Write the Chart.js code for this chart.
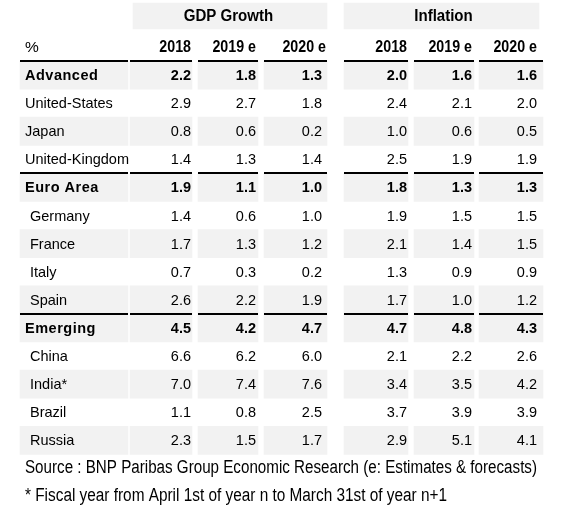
<!DOCTYPE html>
<html><head><meta charset="utf-8">
<script src="https://cdn.jsdelivr.net/npm/chart.js@4"></script>
<style>html,body{margin:0;padding:0;background:#fff}#wrap{width:569px;height:514px;position:relative}</style>
</head><body><div id="wrap"><canvas id="c"></canvas></div>
<script>
// ---------------- data ----------------
const groupTitles = ['GDP Growth', 'Inflation'];
const columnHeaders = ['2018', '2019 e', '2020 e'];
const unitLabel = '%';
const countries = ['Advanced','United-States','Japan','United-Kingdom','Euro Area','Germany','France','Italy','Spain','Emerging','China','India*','Brazil','Russia'];
const aggregateRows = ['Advanced','Euro Area','Emerging'];
const memberRows = ['Germany','France','Italy','Spain','China','India*','Brazil','Russia'];
const gdp2018 = [2.2,2.9,0.8,1.4,1.9,1.4,1.7,0.7,2.6,4.5,6.6,7.0,1.1,2.3];
const gdp2019 = [1.8,2.7,0.6,1.3,1.1,0.6,1.3,0.3,2.2,4.2,6.2,7.4,0.8,1.5];
const gdp2020 = [1.3,1.8,0.2,1.4,1.0,1.0,1.2,0.2,1.9,4.7,6.0,7.6,2.5,1.7];
const inf2018 = [2.0,2.4,1.0,2.5,1.8,1.9,2.1,1.3,1.7,4.7,2.1,3.4,3.7,2.9];
const inf2019 = [1.6,2.1,0.6,1.9,1.3,1.5,1.4,0.9,1.0,4.8,2.2,3.5,3.9,5.1];
const inf2020 = [1.6,2.0,0.5,1.9,1.3,1.5,1.5,0.9,1.2,4.3,2.6,4.2,3.9,4.1];
const sourceNote = 'Source : BNP Paribas Group Economic Research (e: Estimates & forecasts)';
const footNote = '* Fiscal year from April 1st of year n to March 31st of year n+1';

// ---------------- layout & style (table geometry in scale units) ----------------
const labelCol = {start: 20, end: 128, text: 25, indent: 30};
const valueCols = [
  {series: gdp2018, group: 0, head: 0, start: 130, end: 192, text: 191, headText: 191},
  {series: gdp2019, group: 0, head: 1, start: 198, end: 258, text: 256, headText: 256},
  {series: gdp2020, group: 0, head: 2, start: 264, end: 327, text: 322, headText: 326},
  {series: inf2018, group: 1, head: 0, start: 344, end: 408, text: 407, headText: 407},
  {series: inf2019, group: 1, head: 1, start: 414, end: 474, text: 472, headText: 472},
  {series: inf2020, group: 1, head: 2, start: 479, end: 543, text: 537, headText: 537}
];
const groupBands = [{start: 133, end: 327}, {start: 344, end: 539}];
const shadedRows = [1,0,1,0,1,0,1,0,1,1,0,1,0,1];
const ruleRows = [0, 4, 9];
const rowY = {band: -1.6, header: -0.48, source: 14.5, foot: 15.47};
const noteWidths = {source: 512, foot: 422};
const GRAY = '#f2f2f2';
const FONT = '"Liberation Sans", Arial, sans-serif';

const rowBg = shadedRows.map(s => s ? GRAY : 'rgba(255,255,255,0)');
function cellData(col) {
  return countries.map((_, i) => ({x: [col.start, col.end], y: i + 0.5}));
}
const datasets = [
  {data: groupBands.map(b => ({x: [b.start, b.end], y: rowY.band})), backgroundColor: GRAY, barThickness: 26},
  {data: cellData(labelCol), backgroundColor: rowBg},
  ...valueCols.map(c => ({data: cellData(c), backgroundColor: rowBg}))
];

function condensed(ctx, text, px, py, factor) {
  ctx.fillText(text, px, py, ctx.measureText(text).width * factor);
}

const tablePlugin = {
  id: 'tableText',
  afterDatasetsDraw(chart) {
    const {ctx, scales: {x, y}} = chart;
    ctx.save();
    ctx.fillStyle = '#000';
    ctx.textBaseline = 'middle';
    // rules
    ruleRows.forEach(r => {
      const py = Math.round(y.getPixelForValue(r));
      [labelCol, ...valueCols].forEach(c => {
        const x0 = x.getPixelForValue(c.start), x1 = x.getPixelForValue(c.end);
        ctx.fillRect(x0, py - 1, x1 - x0, 2);
      });
    });
    // group titles
    ctx.font = 'bold 16px ' + FONT;
    ctx.textAlign = 'center';
    groupTitles.forEach((t, g) => {
      const cols = valueCols.filter(c => c.group === g);
      const cx = (x.getPixelForValue(cols[0].start) + x.getPixelForValue(cols[cols.length - 1].end)) / 2;
      condensed(ctx, t, cx, y.getPixelForValue(rowY.band) + 1, 0.94);
    });
    // column headers
    ctx.font = '15.5px ' + FONT;
    ctx.textAlign = 'left';
    ctx.fillText(unitLabel, x.getPixelForValue(labelCol.text), y.getPixelForValue(rowY.header));
    ctx.font = 'bold 16px ' + FONT;
    ctx.textAlign = 'right';
    valueCols.forEach(c => {
      condensed(ctx, columnHeaders[c.head], x.getPixelForValue(c.headText), y.getPixelForValue(rowY.header), 0.89);
    });
    // rows
    countries.forEach((name, i) => {
      const py = y.getPixelForValue(i + 0.5) + 1;
      const agg = aggregateRows.includes(name);
      ctx.textAlign = 'left';
      ctx.font = (agg ? 'bold ' : '') + '14.5px ' + FONT;
      ctx.letterSpacing = agg ? '0.5px' : '0px';
      const lx = memberRows.includes(name) ? labelCol.indent : labelCol.text;
      ctx.fillText(name, x.getPixelForValue(lx), py);
      ctx.letterSpacing = '0px';
      ctx.textAlign = 'right';
      valueCols.forEach(c => {
        ctx.fillText(c.series[i].toFixed(1), x.getPixelForValue(c.text), py);
      });
    });
    // notes (tall, horizontally condensed type as in the source image)
    ctx.font = '18px ' + FONT;
    ctx.textAlign = 'left';
    ctx.fillText(sourceNote, x.getPixelForValue(labelCol.text), y.getPixelForValue(rowY.source), noteWidths.source);
    ctx.fillText(footNote, x.getPixelForValue(labelCol.text), y.getPixelForValue(rowY.foot), noteWidths.foot);
    ctx.restore();
  }
};

new Chart(document.getElementById('c'), {
  type: 'bar',
  data: {datasets},
  options: {
    indexAxis: 'y',
    responsive: true,
    maintainAspectRatio: false,
    animation: false,
    grouped: false,
    categoryPercentage: 1,
    barPercentage: 1,
    borderWidth: 0,
    layout: {padding: 0},
    plugins: {legend: {display: false}, tooltip: {enabled: false}},
    scales: {
      x: {type: 'linear', min: 0, max: 569, display: false, offset: false},
      y: {
        type: 'linear', min: -2.171, max: 16.121, reverse: true, display: false, offset: false,
        afterBuildTicks: s => { s.ticks = countries.map((_, i) => ({value: i})).concat([{value: countries.length}]); }
      }
    }
  },
  plugins: [tablePlugin]
});
</script>
</body></html>
